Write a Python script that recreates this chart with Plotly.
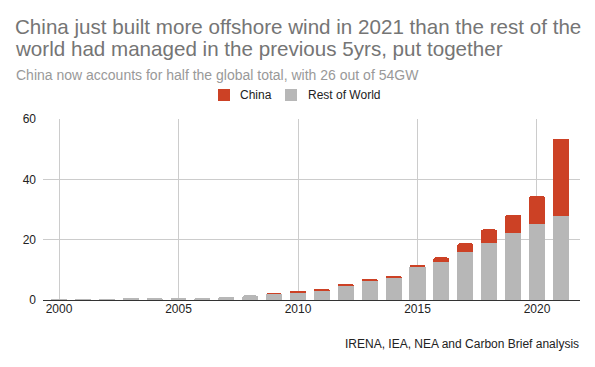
import plotly.graph_objects as go

years = list(range(2000, 2022))
rest_of_world = [0.07, 0.1, 0.25, 0.5, 0.6, 0.7, 0.8, 1.1, 1.5, 2.1, 2.6, 3.3, 4.9, 6.4, 7.5, 10.9,
                 12.5, 15.9, 18.8, 22.2, 25.2, 27.8]
china = [0, 0, 0, 0, 0, 0, 0, 0, 0, 0.02, 0.3, 0.3, 0.4, 0.4, 0.6, 0.8,
         1.6, 2.9, 4.6, 6.0, 9.2, 25.7]
x_ticks = [2000, 2005, 2010, 2015, 2020]
y_ticks = [0, 20, 40, 60]

title_lines = ["China just built more offshore wind in 2021 than the rest of the",
               "world had managed in the previous 5yrs, put together"]
subtitle = "China now accounts for half the global total, with 26 out of 54GW"
source = "IRENA, IEA, NEA and Carbon Brief analysis"

FONT = "Arial, Liberation Sans, sans-serif"
CHINA_COLOR = "#cc4125"
ROW_COLOR = "#b7b7b7"
H = 367.0
L, R, T, B = 43, 580, 119, 300

def py(p):
    return (B - p) / (B - T)

def px(p):
    return (p - L) / (R - L)

fig = go.Figure()
fig.add_trace(go.Bar(x=years, y=rest_of_world, name="Rest of World",
                     marker=dict(color=ROW_COLOR, line=dict(width=0)), width=0.67))
fig.add_trace(go.Bar(x=years, y=china, name="China",
                     marker=dict(color=CHINA_COLOR, line=dict(width=0)), width=0.67))

fig.update_layout(
    width=595, height=367,
    barmode="stack",
    barcornerradius=2,
    plot_bgcolor="white", paper_bgcolor="white",
    margin=dict(l=L, r=595 - R, t=T, b=int(H - B), autoexpand=False),
    font=dict(family=FONT, size=12, color="#222222"),
    showlegend=False,
    xaxis=dict(range=[1999.33, 2021.8], tickvals=x_ticks, ticktext=[str(v) for v in x_ticks],
               showgrid=True, gridcolor="#cccccc", gridwidth=1, zeroline=False,
               showline=False, ticks="", tickfont=dict(size=12, color="#222222")),
    yaxis=dict(range=[0, 60], tickvals=y_ticks, showgrid=True, gridcolor="#cccccc",
               zeroline=True, zerolinecolor="#333333", zerolinewidth=1.3,
               ticks="", ticklabelstandoff=6, tickfont=dict(size=12, color="#222222")),
)

# manual legend (China first, then Rest of World)
legend_items = [("China", CHINA_COLOR, 218, 238), ("Rest of World", ROW_COLOR, 285, 306)]
for name, color, sx, tx in legend_items:
    fig.add_shape(type="rect", xref="paper", yref="paper",
                  x0=px(sx), x1=px(sx + 12), y0=py(101), y1=py(89),
                  fillcolor=color, line=dict(width=0))
    fig.add_annotation(text=name, xref="paper", yref="paper", x=px(tx), y=py(95),
                       xanchor="left", yanchor="middle", showarrow=False,
                       font=dict(size=12, color="#222222", family=FONT))

for line, mid in zip(title_lines, [26, 48]):
    fig.add_annotation(text=line, xref="paper", yref="paper", x=px(13), y=py(mid),
                       xanchor="left", yanchor="middle", showarrow=False, align="left",
                       font=dict(size=20.6, color="#757575", family=FONT))
fig.add_annotation(text=subtitle, xref="paper", yref="paper", x=px(14), y=py(75),
                   xanchor="left", yanchor="middle", showarrow=False, align="left",
                   font=dict(size=14, color="#999999", family=FONT))
fig.add_annotation(text=source, xref="paper", yref="paper", x=px(581), y=py(344),
                   xanchor="right", yanchor="middle", showarrow=False,
                   font=dict(size=12, color="#222222", family=FONT))

fig.write_html("out.html", config={"displayModeBar": False},
               post_script="document.body.style.margin='0';")
